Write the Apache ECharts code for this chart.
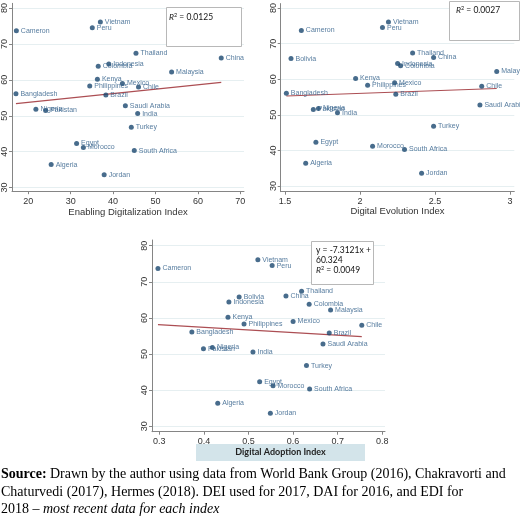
<!DOCTYPE html>
<html>
<head>
<meta charset="utf-8">
<script src="https://cdn.jsdelivr.net/npm/echarts@6/dist/echarts.min.js"></script>
<style>
html,body{margin:0;padding:0;background:#fff;}
#c{width:520px;height:525px;}
</style>
</head>
<body>
<div id="c"></div>
<script>
// ---- data ----
const countries = ["Cameron","Vietnam","Peru","Bolivia","Thailand","China","Indonesia","Colombia","Malaysia","Kenya","Mexico","Philippines","Chile","Bangladesh","Brazil","Saudi Arabia","Nigeria","Pakistan","India","Turkey","Egypt","Morocco","South Africa","Algeria","Jordan"];
const outcome = [73.7,76.1,74.5,65.8,67.4,66.1,64.4,63.8,62.2,60.2,59.0,58.3,58.0,56.1,55.8,52.8,51.8,51.5,50.6,46.8,42.3,41.2,40.3,36.4,33.6];
const ediValues = [17.2,37.0,35.1,null,45.4,65.5,39.0,36.5,53.8,36.3,42.2,34.5,46.0,17.1,38.3,42.9,21.8,24.1,45.8,44.3,31.4,33.0,45.0,25.4,37.9];
const deiValues = [1.609,2.190,2.150,1.540,2.351,2.491,2.251,2.271,2.912,1.971,2.231,2.051,2.812,1.509,2.239,2.800,1.723,1.689,1.850,2.491,1.706,2.084,2.297,1.638,2.411];
const daiValues = [0.297,0.521,0.553,0.479,0.619,0.584,0.456,0.636,0.684,0.454,0.600,0.490,0.754,0.373,0.681,0.667,0.419,0.399,0.510,0.630,0.525,0.555,0.637,0.431,0.549];
const fitEDIx = [17.1,65.5], fitEDIy = [53.4,59.3];
const fitDEIx = [1.509,2.912], fitDEIy = [55.3,57.4];
const fitDAIx = [0.297,0.754], fitDAIy = [58.15,54.81];
const yTicks = [30,40,50,60,70,80];
const ediTicks = [20,30,40,50,60,70];
const deiTicks = [1.5,2,2.5,3];
const deiTickLabels = ["1.5","2","2.5","3"];
const daiTicks = [0.3,0.4,0.5,0.6,0.7,0.8];
const r2Labels = ["0.0125","0.0027","0.0049"];
const daiEq = ["y = -7.3121x +","60.324"];
const xTitles = ["Enabling Digitalization Index","Digital Evolution Index","Digital Adoption Index"];

// ---- styles ----
const NAVY = '#1a476f';
const FIT = '#ac4e53';
const AXIS = '#858585';
const GRIDC = '#e6eff1';

function pts(xs){
  const out=[];
  xs.forEach((x,i)=>{ if(x!==null) out.push({name:countries[i], value:[x,outcome[i]]}); });
  return out;
}
function xAxisCfg(idx,min,max,ticks,labels,name,nameGap,margin){
  return {
    type:'value', gridIndex:idx, min:min, max:max,
    axisLine:{show:true,onZero:false,lineStyle:{color:AXIS,width:1}},
    axisTick:{show:true,length:3,customValues:ticks,lineStyle:{color:AXIS}},
    axisLabel:{customValues:ticks,fontSize:9,color:'#333',margin:margin,fontFamily:'Liberation Sans',
      formatter:v=>{const i=ticks.indexOf(v);return labels? labels[i] : String(v);}},
    splitLine:{show:false},
    name:name, nameLocation:'middle', nameGap:nameGap,
    nameTextStyle:{fontSize:9.5,color:'#333',fontFamily:'Liberation Sans'}
  };
}
function yAxisCfg(idx,min,max){
  return {
    type:'value', gridIndex:idx, min:min, max:max,
    axisLine:{show:true,onZero:false,lineStyle:{color:AXIS,width:1}},
    axisTick:{show:true,length:3,customValues:yTicks,lineStyle:{color:AXIS}},
    axisLabel:{customValues:yTicks,rotate:90,fontSize:9,color:'#333',margin:3,fontFamily:'Liberation Sans'},
    splitLine:{show:true,lineStyle:{color:GRIDC,width:1}}
  };
}
function scat(idx,xs){
  return {
    type:'scatter', xAxisIndex:idx, yAxisIndex:idx, data:pts(xs),
    symbol:'circle', symbolSize:5, itemStyle:{color:NAVY},
    label:{show:true,position:'right',distance:2,formatter:'{b}',fontSize:7,color:'#2b5a86',fontFamily:'Liberation Sans'},
    emphasis:{disabled:true}, z:3
  };
}
function fit(idx,xs,ys){
  return {
    type:'line', xAxisIndex:idx, yAxisIndex:idx, data:xs.map((x,i)=>[x,ys[i]]),
    symbol:'none', lineStyle:{color:FIT,width:1.2}, silent:true, z:2
  };
}
const rich = {
  it:{fontStyle:'italic',fontSize:8.5,fontFamily:'Lato',fill:'#111'},
  sup:{fontSize:5.5,fontFamily:'Lato',fill:'#111',verticalAlign:'top',padding:[0,0,4,0]},
  n:{fontSize:8.5,fontFamily:'Lato',fill:'#111'}
};
function r2text(v){ return '{it|R}{sup|2}{n| = '+v+'}'; }

const option = {
  animation:false,
  backgroundColor:'#fff',
  grid:[
    {left:11, top:1.3, width:233, height:189.9},
    {left:280.7, top:0.5, width:233.6, height:191.2},
    {left:152, top:240, width:233, height:191.7}
  ],
  xAxis:[
    xAxisCfg(0,16.17,70.87,ediTicks,null,xTitles[0],16,6),
    xAxisCfg(1,1.4713,3.0293,deiTicks,deiTickLabels,xTitles[1],11,5),
    Object.assign(xAxisCfg(2,0.28363,0.80605,daiTicks,null,'',0,5),{name:''})
  ],
  yAxis:[ yAxisCfg(0,29,81.3), yAxisCfg(1,28.43,81.24), yAxisCfg(2,28.5,81.58) ],
  series:[
    fit(0,fitEDIx,fitEDIy), scat(0,ediValues),
    fit(1,fitDEIx,fitDEIy), scat(1,deiValues),
    fit(2,fitDAIx,fitDAIy), scat(2,daiValues)
  ],
  graphic:[
    {type:'rect',shape:{x:166.5,y:7.5,width:75,height:39},style:{fill:'#fff',stroke:'#b8b8b8',lineWidth:1},z:10},
    {type:'text',x:169,y:12.5,style:{text:r2text(r2Labels[0]),rich:rich},z:11},
    {type:'rect',shape:{x:449.5,y:1.5,width:70,height:39},style:{fill:'#fff',stroke:'#b8b8b8',lineWidth:1},z:10},
    {type:'text',x:456,y:5.5,style:{text:r2text(r2Labels[1]),rich:rich},z:11},
    {type:'rect',shape:{x:311.5,y:241.5,width:62,height:43},style:{fill:'#fff',stroke:'#b8b8b8',lineWidth:1},z:10},
    {type:'text',x:316,y:245.5,style:{text:'{n|'+daiEq[0]+'}\n{n|'+daiEq[1]+'}\n'+r2text(r2Labels[2]),rich:rich,lineHeight:10},z:11},
    {type:'rect',shape:{x:196,y:444,width:169,height:17},style:{fill:'#d3e4ea'},z:10},
    {type:'text',x:280.5,y:452.5,style:{text:xTitles[2],fontFamily:'Lato',fontWeight:'bold',fontSize:9,fill:'#222',align:'center',verticalAlign:'middle'},z:11},
    {type:'text',x:1,y:466,style:{
      text:'{b|Source:} {r|Drawn by the author using data from World Bank Group (2016), Chakravorti and}\n{r|Chaturvedi (2017), Hermes (2018). DEI used for 2017, DAI for 2016, and EDI for}\n{r|2018 – }{i|most recent data for each index}',
      lineHeight:17.3,
      rich:{
        b:{fontFamily:'Liberation Serif',fontWeight:'bold',fontSize:14,fill:'#000',lineHeight:17.3},
        r:{fontFamily:'Liberation Serif',fontSize:14,fill:'#000',lineHeight:17.3},
        i:{fontFamily:'Liberation Serif',fontStyle:'italic',fontSize:14,fill:'#000',lineHeight:17.3}
      }},z:11}
  ]
};
const chart = echarts.init(document.getElementById('c'),null,{renderer:'canvas'});
chart.setOption(option);
</script>
</body>
</html>
